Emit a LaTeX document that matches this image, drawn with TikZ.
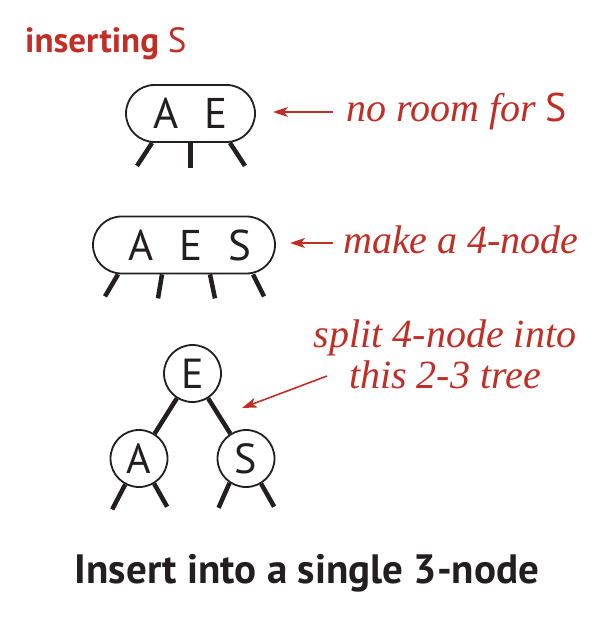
\documentclass[tikz,border=0pt]{standalone}
\usepackage{fontspec}
\setsansfont{PT Sans}
\newfontfamily\notefont{Liberation Serif}
\usetikzlibrary{arrows.meta,shapes.misc,positioning,calc}
\definecolor{bookred}{RGB}{192,46,38}
\definecolor{ink}{RGB}{35,31,32}

\begin{document}
\begin{tikzpicture}[x=1pt,y=-1pt]
	\tikzstyle{every node}=[text=ink]
	\tikzstyle{pill}=[draw=ink, line width=1.8pt, rounded rectangle, minimum height=57pt, inner sep=0pt, font=\sffamily\fontsize{43}{50}\selectfont]
	\tikzstyle{knot}=[draw=ink, line width=1.8pt, circle, minimum size=57pt, inner sep=0pt, font=\sffamily\fontsize{42}{48}\selectfont]
	\tikzstyle{leg}=[draw=ink, line width=4.5pt]
	\tikzstyle{note}=[text=bookred, font=\notefont\itshape\fontsize{40}{41}\selectfont, inner sep=0pt]
	\tikzstyle{pointer}=[bookred, line width=1.6pt, -{Stealth[length=15pt,width=10pt,inset=4pt]}]
	\useasboundingbox (0,0) rectangle (615,631);
	\node [anchor=base west, text=bookred, inner sep=0pt, font=\sffamily\fontsize{35}{40}\selectfont] (head) at (25,53) {\bfseries inserting \mdseries S};
	% the full 3-node
	\node [pill, minimum width=129pt] (ae) at (190.5,113.5) {A\hspace{26pt}E};
	\draw [leg] ([xshift=-38.5pt]ae.south) -- ++(-15,23);
	\draw [leg] (ae.south) -- ++(0,25);
	\draw [leg] ([xshift=39.5pt]ae.south) -- ++(15,23);
	\node [note, anchor=base west] (room) at (346,122) {no room for \upshape\sffamily S};
	\coordinate (r1) at (333,112);
	\coordinate (t1) at (273,112);
	\draw [pointer] (r1) -- (t1);
	% temporary 4-node
	\node [pill, minimum width=182pt] (aes) at (184,245) {\hspace*{12pt}A\hspace{26pt}E\hspace{26pt}S};
	\draw [leg] ([xshift=-66pt]aes.south) -- ++(-13,22);
	\draw [leg] ([xshift=-22pt]aes.south) -- ++(-4,24);
	\draw [leg] ([xshift=26pt]aes.south) -- ++(5,24);
	\draw [leg] ([xshift=69pt]aes.south) -- ++(11,22);
	\node [note, anchor=base west] (make) at (343,253) {make a 4-node};
	\coordinate (r2) at (333,243);
	\coordinate (t2) at (290,243);
	\draw [pointer] (r2) -- (t2);
	% after the split
	\node [knot] (e) at (192.5,373.5) {E};
	\node [knot] (a) at (139,458.5) {A};
	\node [knot] (s) at (246,458.5) {S};
	\draw [leg] (e) -- (a);
	\draw [leg] (e) -- (s);
	\draw [leg] (a.242) -- ++(-13,25);
	\draw [leg] (a.301) -- ++(13,23);
	\draw [leg] (s.236) -- ++(-11,25);
	\draw [leg] (s.301) -- ++(13,23);
	\node [note, align=center] (split) at (445,354) {split 4-node into\\this 2-3 tree};
	\coordinate (r3) at (327,376);
	\coordinate (t3) at (242,408);
	\draw [pointer] (r3) -- (t3);
	\node [anchor=base, inner sep=0pt, font=\sffamily\bfseries\fontsize{41}{48}\selectfont] (title) at (307,583) {Insert into a single 3-node};
\end{tikzpicture}
\end{document}
